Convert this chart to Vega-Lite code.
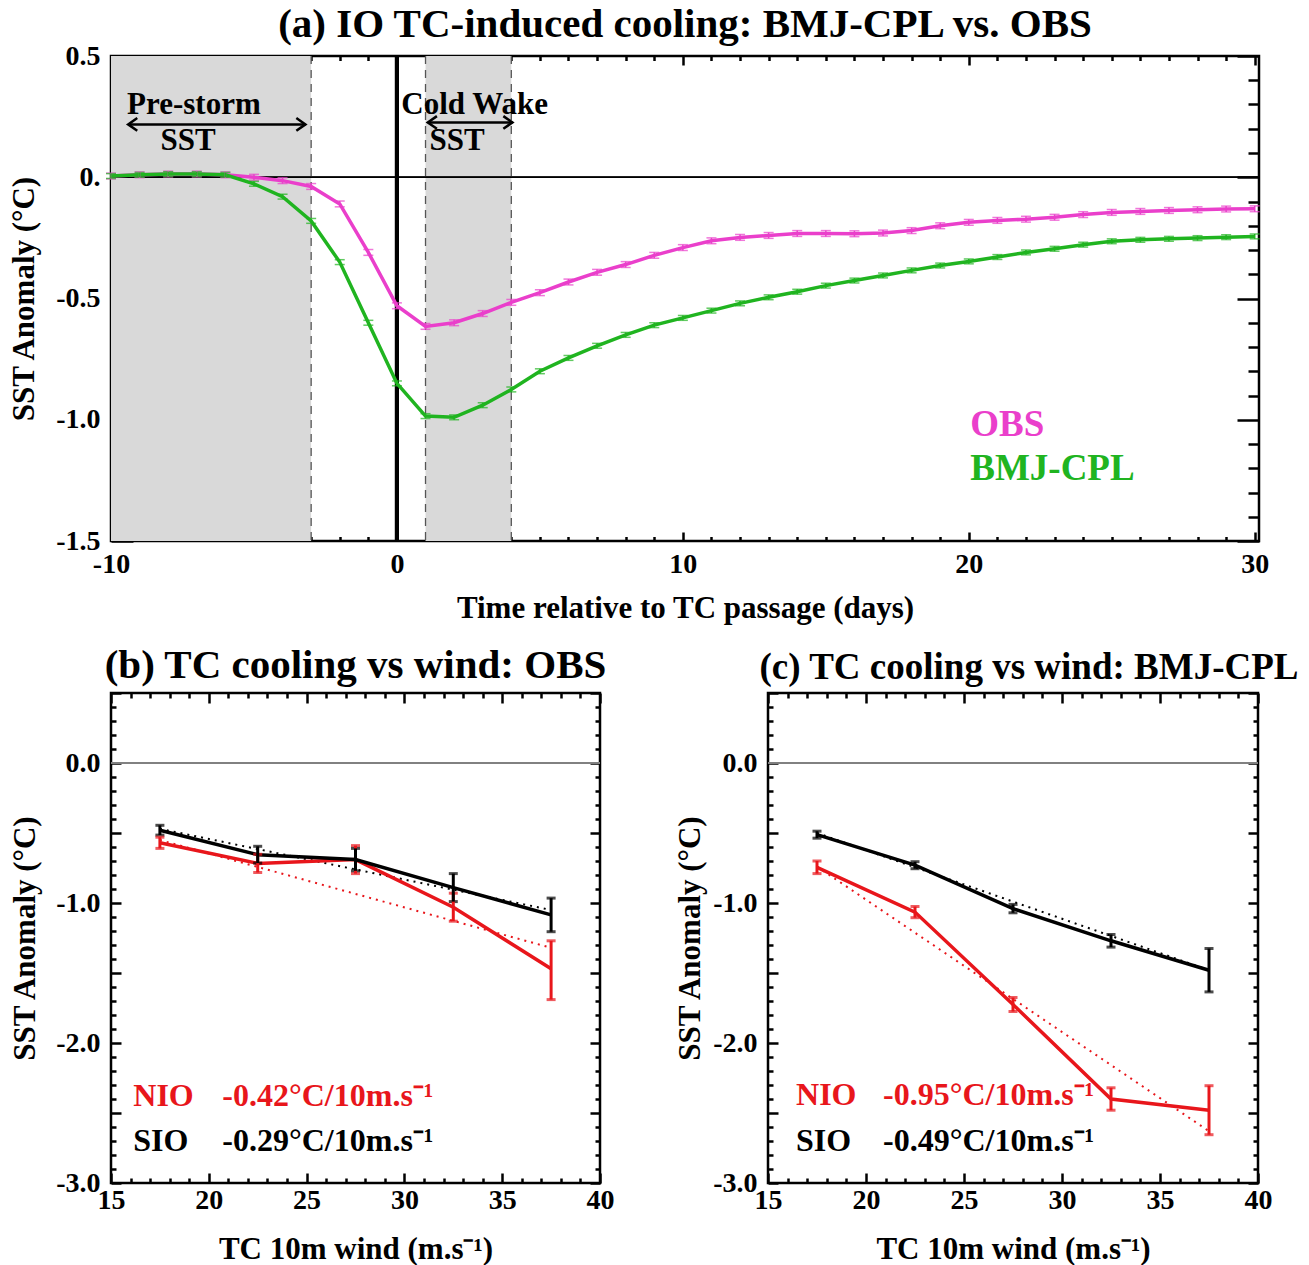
{
  "$schema": "https://vega.github.io/schema/vega-lite/v6.json",
  "background": "white",
  "padding": {"left": 7, "top": 2, "right": 5, "bottom": 3},
  "config": {
    "font": "Liberation Serif",
    "view": {"stroke": "black", "strokeWidth": 2.5},
    "axis": {"domain": false, "grid": false, "labelFont": "Liberation Serif", "titleFont": "Liberation Serif", "labelFontWeight": "bold", "titleFontWeight": "bold", "labelColor": "black", "titleColor": "black", "tickColor": "black", "tickWidth": 2.5, "labelFontSize": 28, "titleFontSize": 31, "labelFlush": false, "labelOverlap": false},
    "title": {"font": "Liberation Serif", "fontWeight": "bold", "fontSize": 41, "color": "black"},
    "text": {"font": "Liberation Serif", "fontWeight": "bold"}
  },
  "datasets": {
    "a": [
      {"day": -10, "series": "OBS", "v": 0.005, "lo": -0.007, "hi": 0.017},
      {"day": -9, "series": "OBS", "v": 0.010, "lo": -0.002, "hi": 0.022},
      {"day": -8, "series": "OBS", "v": 0.013, "lo": 0.001, "hi": 0.025},
      {"day": -7, "series": "OBS", "v": 0.013, "lo": 0.001, "hi": 0.025},
      {"day": -6, "series": "OBS", "v": 0.010, "lo": -0.002, "hi": 0.022},
      {"day": -5, "series": "OBS", "v": 0.000, "lo": -0.012, "hi": 0.012},
      {"day": -4, "series": "OBS", "v": -0.014, "lo": -0.026, "hi": -0.002},
      {"day": -3, "series": "OBS", "v": -0.038, "lo": -0.050, "hi": -0.026},
      {"day": -2, "series": "OBS", "v": -0.110, "lo": -0.122, "hi": -0.098},
      {"day": -1, "series": "OBS", "v": -0.310, "lo": -0.322, "hi": -0.298},
      {"day": 0, "series": "OBS", "v": -0.530, "lo": -0.542, "hi": -0.518},
      {"day": 1, "series": "OBS", "v": -0.615, "lo": -0.627, "hi": -0.603},
      {"day": 2, "series": "OBS", "v": -0.600, "lo": -0.612, "hi": -0.588},
      {"day": 3, "series": "OBS", "v": -0.562, "lo": -0.574, "hi": -0.550},
      {"day": 4, "series": "OBS", "v": -0.516, "lo": -0.528, "hi": -0.504},
      {"day": 5, "series": "OBS", "v": -0.476, "lo": -0.488, "hi": -0.464},
      {"day": 6, "series": "OBS", "v": -0.432, "lo": -0.444, "hi": -0.420},
      {"day": 7, "series": "OBS", "v": -0.392, "lo": -0.404, "hi": -0.380},
      {"day": 8, "series": "OBS", "v": -0.360, "lo": -0.372, "hi": -0.348},
      {"day": 9, "series": "OBS", "v": -0.322, "lo": -0.334, "hi": -0.310},
      {"day": 10, "series": "OBS", "v": -0.290, "lo": -0.302, "hi": -0.278},
      {"day": 11, "series": "OBS", "v": -0.262, "lo": -0.274, "hi": -0.250},
      {"day": 12, "series": "OBS", "v": -0.248, "lo": -0.260, "hi": -0.236},
      {"day": 13, "series": "OBS", "v": -0.240, "lo": -0.252, "hi": -0.228},
      {"day": 14, "series": "OBS", "v": -0.232, "lo": -0.244, "hi": -0.220},
      {"day": 15, "series": "OBS", "v": -0.232, "lo": -0.244, "hi": -0.220},
      {"day": 16, "series": "OBS", "v": -0.233, "lo": -0.245, "hi": -0.221},
      {"day": 17, "series": "OBS", "v": -0.230, "lo": -0.242, "hi": -0.218},
      {"day": 18, "series": "OBS", "v": -0.220, "lo": -0.232, "hi": -0.208},
      {"day": 19, "series": "OBS", "v": -0.200, "lo": -0.212, "hi": -0.188},
      {"day": 20, "series": "OBS", "v": -0.186, "lo": -0.198, "hi": -0.174},
      {"day": 21, "series": "OBS", "v": -0.178, "lo": -0.190, "hi": -0.166},
      {"day": 22, "series": "OBS", "v": -0.173, "lo": -0.185, "hi": -0.161},
      {"day": 23, "series": "OBS", "v": -0.165, "lo": -0.177, "hi": -0.153},
      {"day": 24, "series": "OBS", "v": -0.154, "lo": -0.166, "hi": -0.142},
      {"day": 25, "series": "OBS", "v": -0.145, "lo": -0.157, "hi": -0.133},
      {"day": 26, "series": "OBS", "v": -0.141, "lo": -0.153, "hi": -0.129},
      {"day": 27, "series": "OBS", "v": -0.137, "lo": -0.149, "hi": -0.125},
      {"day": 28, "series": "OBS", "v": -0.134, "lo": -0.146, "hi": -0.122},
      {"day": 29, "series": "OBS", "v": -0.131, "lo": -0.143, "hi": -0.119},
      {"day": 30, "series": "OBS", "v": -0.130, "lo": -0.142, "hi": -0.118},
      {"day": -10, "series": "BMJ-CPL", "v": 0.005, "lo": -0.005, "hi": 0.015},
      {"day": -9, "series": "BMJ-CPL", "v": 0.010, "lo": 0.000, "hi": 0.020},
      {"day": -8, "series": "BMJ-CPL", "v": 0.013, "lo": 0.003, "hi": 0.023},
      {"day": -7, "series": "BMJ-CPL", "v": 0.013, "lo": 0.003, "hi": 0.023},
      {"day": -6, "series": "BMJ-CPL", "v": 0.010, "lo": 0.000, "hi": 0.020},
      {"day": -5, "series": "BMJ-CPL", "v": -0.027, "lo": -0.037, "hi": -0.017},
      {"day": -4, "series": "BMJ-CPL", "v": -0.080, "lo": -0.090, "hi": -0.070},
      {"day": -3, "series": "BMJ-CPL", "v": -0.180, "lo": -0.190, "hi": -0.170},
      {"day": -2, "series": "BMJ-CPL", "v": -0.350, "lo": -0.360, "hi": -0.340},
      {"day": -1, "series": "BMJ-CPL", "v": -0.600, "lo": -0.610, "hi": -0.590},
      {"day": 0, "series": "BMJ-CPL", "v": -0.850, "lo": -0.860, "hi": -0.840},
      {"day": 1, "series": "BMJ-CPL", "v": -0.985, "lo": -0.995, "hi": -0.975},
      {"day": 2, "series": "BMJ-CPL", "v": -0.990, "lo": -1.000, "hi": -0.980},
      {"day": 3, "series": "BMJ-CPL", "v": -0.940, "lo": -0.950, "hi": -0.930},
      {"day": 4, "series": "BMJ-CPL", "v": -0.875, "lo": -0.885, "hi": -0.865},
      {"day": 5, "series": "BMJ-CPL", "v": -0.800, "lo": -0.810, "hi": -0.790},
      {"day": 6, "series": "BMJ-CPL", "v": -0.745, "lo": -0.755, "hi": -0.735},
      {"day": 7, "series": "BMJ-CPL", "v": -0.695, "lo": -0.705, "hi": -0.685},
      {"day": 8, "series": "BMJ-CPL", "v": -0.650, "lo": -0.660, "hi": -0.640},
      {"day": 9, "series": "BMJ-CPL", "v": -0.610, "lo": -0.620, "hi": -0.600},
      {"day": 10, "series": "BMJ-CPL", "v": -0.580, "lo": -0.590, "hi": -0.570},
      {"day": 11, "series": "BMJ-CPL", "v": -0.550, "lo": -0.560, "hi": -0.540},
      {"day": 12, "series": "BMJ-CPL", "v": -0.520, "lo": -0.530, "hi": -0.510},
      {"day": 13, "series": "BMJ-CPL", "v": -0.495, "lo": -0.505, "hi": -0.485},
      {"day": 14, "series": "BMJ-CPL", "v": -0.472, "lo": -0.482, "hi": -0.462},
      {"day": 15, "series": "BMJ-CPL", "v": -0.447, "lo": -0.457, "hi": -0.437},
      {"day": 16, "series": "BMJ-CPL", "v": -0.426, "lo": -0.436, "hi": -0.416},
      {"day": 17, "series": "BMJ-CPL", "v": -0.405, "lo": -0.415, "hi": -0.395},
      {"day": 18, "series": "BMJ-CPL", "v": -0.384, "lo": -0.394, "hi": -0.374},
      {"day": 19, "series": "BMJ-CPL", "v": -0.364, "lo": -0.374, "hi": -0.354},
      {"day": 20, "series": "BMJ-CPL", "v": -0.347, "lo": -0.357, "hi": -0.337},
      {"day": 21, "series": "BMJ-CPL", "v": -0.329, "lo": -0.339, "hi": -0.319},
      {"day": 22, "series": "BMJ-CPL", "v": -0.310, "lo": -0.320, "hi": -0.300},
      {"day": 23, "series": "BMJ-CPL", "v": -0.295, "lo": -0.305, "hi": -0.285},
      {"day": 24, "series": "BMJ-CPL", "v": -0.278, "lo": -0.288, "hi": -0.268},
      {"day": 25, "series": "BMJ-CPL", "v": -0.264, "lo": -0.274, "hi": -0.254},
      {"day": 26, "series": "BMJ-CPL", "v": -0.258, "lo": -0.268, "hi": -0.248},
      {"day": 27, "series": "BMJ-CPL", "v": -0.254, "lo": -0.264, "hi": -0.244},
      {"day": 28, "series": "BMJ-CPL", "v": -0.251, "lo": -0.261, "hi": -0.241},
      {"day": 29, "series": "BMJ-CPL", "v": -0.247, "lo": -0.257, "hi": -0.237},
      {"day": 30, "series": "BMJ-CPL", "v": -0.244, "lo": -0.254, "hi": -0.234}
    ],
    "shade": [{"start": -10, "end": -3}, {"start": 1, "end": 4}],
    "bounds": [{"x": -3}, {"x": 1}, {"x": 4}],
    "annot": [
      {"x": -7.1, "y": 0.30, "t": "Pre-storm"},
      {"x": -7.3, "y": 0.15, "t": "SST"},
      {"x": 2.72, "y": 0.30, "t": "Cold Wake"},
      {"x": 2.1, "y": 0.15, "t": "SST"}
    ],
    "arrows": [{"x1": -9.4, "x2": -3.2, "y": 0.218}, {"x1": 1.08, "x2": 4.04, "y": 0.226}],
    "heads": [
      {"x": -9.4, "y": 0.218, "dir": "left"},
      {"x": -3.2, "y": 0.218, "dir": "right"},
      {"x": 1.08, "y": 0.226, "dir": "left"},
      {"x": 4.04, "y": 0.226, "dir": "right"}
    ],
    "legA": [
      {"x": 20.05, "y": -1.02, "series": "OBS"},
      {"x": 20.05, "y": -1.205, "series": "BMJ-CPL"}
    ],
    "b": [
      {"wind": 17.5, "region": "NIO", "v": -0.57, "lo": -0.61, "hi": -0.53},
      {"wind": 22.5, "region": "NIO", "v": -0.717, "lo": -0.782, "hi": -0.652},
      {"wind": 27.5, "region": "NIO", "v": -0.69, "lo": -0.79, "hi": -0.59},
      {"wind": 32.5, "region": "NIO", "v": -1.03, "lo": -1.13, "hi": -0.93},
      {"wind": 37.5, "region": "NIO", "v": -1.47, "lo": -1.69, "hi": -1.27},
      {"wind": 17.5, "region": "SIO", "v": -0.48, "lo": -0.515, "hi": -0.445},
      {"wind": 22.5, "region": "SIO", "v": -0.655, "lo": -0.715, "hi": -0.595},
      {"wind": 27.5, "region": "SIO", "v": -0.69, "lo": -0.77, "hi": -0.61},
      {"wind": 32.5, "region": "SIO", "v": -0.89, "lo": -0.99, "hi": -0.79},
      {"wind": 37.5, "region": "SIO", "v": -1.085, "lo": -1.205, "hi": -0.965}
    ],
    "bfit": [
      {"wind": 17.5, "region": "NIO", "v": -0.55},
      {"wind": 37.5, "region": "NIO", "v": -1.32},
      {"wind": 17.5, "region": "SIO", "v": -0.47},
      {"wind": 37.5, "region": "SIO", "v": -1.05}
    ],
    "btxt": [
      {"x": 16.14, "y": -2.38, "region": "NIO", "t": "NIO"},
      {"x": 20.69, "y": -2.38, "region": "NIO", "t": "-0.42°C/10m.s⁻¹"},
      {"x": 16.14, "y": -2.70, "region": "SIO", "t": "SIO"},
      {"x": 20.69, "y": -2.70, "region": "SIO", "t": "-0.29°C/10m.s⁻¹"}
    ],
    "c": [
      {"wind": 17.5, "region": "NIO", "v": -0.745, "lo": -0.79, "hi": -0.70},
      {"wind": 22.5, "region": "NIO", "v": -1.065, "lo": -1.105, "hi": -1.025},
      {"wind": 27.5, "region": "NIO", "v": -1.725, "lo": -1.775, "hi": -1.675},
      {"wind": 32.5, "region": "NIO", "v": -2.40, "lo": -2.48, "hi": -2.32},
      {"wind": 37.5, "region": "NIO", "v": -2.48, "lo": -2.655, "hi": -2.305},
      {"wind": 17.5, "region": "SIO", "v": -0.512, "lo": -0.537, "hi": -0.487},
      {"wind": 22.5, "region": "SIO", "v": -0.73, "lo": -0.755, "hi": -0.705},
      {"wind": 27.5, "region": "SIO", "v": -1.04, "lo": -1.07, "hi": -1.01},
      {"wind": 32.5, "region": "SIO", "v": -1.27, "lo": -1.315, "hi": -1.225},
      {"wind": 37.5, "region": "SIO", "v": -1.48, "lo": -1.635, "hi": -1.325}
    ],
    "cfit": [
      {"wind": 17.5, "region": "NIO", "v": -0.74},
      {"wind": 37.5, "region": "NIO", "v": -2.63},
      {"wind": 17.5, "region": "SIO", "v": -0.50},
      {"wind": 37.5, "region": "SIO", "v": -1.48}
    ],
    "ctxt": [
      {"x": 16.43, "y": -2.37, "region": "NIO", "t": "NIO"},
      {"x": 20.87, "y": -2.37, "region": "NIO", "t": "-0.95°C/10m.s⁻¹"},
      {"x": 16.43, "y": -2.70, "region": "SIO", "t": "SIO"},
      {"x": 20.87, "y": -2.70, "region": "SIO", "t": "-0.49°C/10m.s⁻¹"}
    ]
  },
  "spacing": 18,
  "resolve": {"scale": {"color": "independent"}},
  "vconcat": [
    {
      "width": 1148,
      "height": 485,
      "title": {"text": "(a) IO TC-induced cooling: BMJ-CPL vs. OBS", "offset": -4},
      "resolve": {"axis": {"x": "independent", "y": "independent"}},
      "layer": [
        {
          "data": {"name": "shade"},
          "mark": {"type": "rect", "color": "#d9d9d9"},
          "encoding": {
            "x": {"field": "start", "type": "quantitative", "scale": {"domain": [-10, 30.15], "nice": false, "zero": false}, "axis": null},
            "x2": {"field": "end"},
            "y": {"datum": 0.5, "type": "quantitative", "scale": {"domain": [-1.5, 0.5], "nice": false, "zero": false}, "axis": null},
            "y2": {"datum": -1.5}
          }
        },
        {
          "data": {"name": "bounds"},
          "mark": {"type": "rule", "color": "#555555", "strokeWidth": 1.3, "strokeDash": [8, 6]},
          "encoding": {"x": {"field": "x", "type": "quantitative", "axis": null}}
        },
        {
          "data": {"name": "bounds"},
          "mark": {"type": "rule", "color": "black", "strokeWidth": 1.3},
          "encoding": {"y": {"datum": 0, "type": "quantitative", "axis": null}}
        },
        {
          "data": {"name": "bounds"},
          "mark": {"type": "rule", "color": "black", "strokeWidth": 4},
          "encoding": {"x": {"datum": 0, "type": "quantitative", "axis": null}}
        },
        {
          "data": {"name": "a"},
          "mark": {"type": "line", "strokeWidth": 3.5},
          "encoding": {
            "x": {"field": "day", "type": "quantitative", "axis": {
              "orient": "bottom", "title": "Time relative to TC passage (days)",
              "values": [-10,-9,-8,-7,-6,-5,-4,-3,-2,-1,0,1,2,3,4,5,6,7,8,9,10,11,12,13,14,15,16,17,18,19,20,21,22,23,24,25,26,27,28,29,30],
              "labelExpr": "datum.value % 10 === 0 ? '' + datum.value : ''",
              "tickSize": {"condition": {"test": "datum.value % 10 === 0", "value": -9}, "value": -4.5},
              "labelPadding": 18.5, "titlePadding": 10}},
            "y": {"field": "v", "type": "quantitative", "axis": {
              "orient": "left", "title": "SST Anomaly (°C)",
              "values": [-1.5,-1.4,-1.3,-1.2,-1.1,-1.0,-0.9,-0.8,-0.7,-0.6,-0.5,-0.4,-0.3,-0.2,-0.1,0,0.1,0.2,0.3,0.4,0.5],
              "labelExpr": "abs(datum.value*2-round(datum.value*2))<0.001 ? (abs(datum.value)<0.001 ? '0.' : replace(format(datum.value,'.1f'),'−','-')) : ''",
              "tickSize": {"condition": {"test": "abs(datum.value*2-round(datum.value*2))<0.001", "value": -22}, "value": -11},
              "labelPadding": 33, "titlePadding": 15}},
            "color": {"field": "series", "type": "nominal", "scale": {"domain": ["OBS", "BMJ-CPL"], "range": ["#ea3fcb", "#20b420"]}, "legend": null},
            "detail": {"field": "series"}
          }
        },
        {
          "data": {"name": "a"},
          "mark": {"type": "errorbar", "ticks": true, "size": 10, "thickness": 1.5},
          "encoding": {
            "x": {"field": "day", "type": "quantitative", "axis": null},
            "y": {"field": "lo", "type": "quantitative", "axis": null},
            "y2": {"field": "hi"},
            "color": {"field": "series", "type": "nominal", "legend": null}
          }
        },
        {
          "data": {"name": "annot"},
          "mark": {"type": "text", "fontSize": 31, "color": "black", "align": "center", "baseline": "middle"},
          "encoding": {
            "x": {"field": "x", "type": "quantitative", "axis": {
              "orient": "top", "labels": false, "title": null,
              "values": [-10,-9,-8,-7,-6,-5,-4,-3,-2,-1,0,1,2,3,4,5,6,7,8,9,10,11,12,13,14,15,16,17,18,19,20,21,22,23,24,25,26,27,28,29,30],
              "tickSize": {"condition": {"test": "datum.value % 10 === 0", "value": -9}, "value": -4.5}}},
            "y": {"field": "y", "type": "quantitative", "axis": {
              "orient": "right", "labels": false, "title": null,
              "values": [-1.5,-1.4,-1.3,-1.2,-1.1,-1.0,-0.9,-0.8,-0.7,-0.6,-0.5,-0.4,-0.3,-0.2,-0.1,0,0.1,0.2,0.3,0.4,0.5],
              "tickSize": {"condition": {"test": "abs(datum.value*2-round(datum.value*2))<0.001", "value": -22}, "value": -11}}},
            "text": {"field": "t"}
          }
        },
        {
          "data": {"name": "arrows"},
          "mark": {"type": "rule", "color": "black", "strokeWidth": 2.5},
          "encoding": {
            "x": {"field": "x1", "type": "quantitative", "axis": null},
            "x2": {"field": "x2"},
            "y": {"field": "y", "type": "quantitative", "axis": null}
          }
        },
        {
          "data": {"name": "heads"},
          "mark": {"type": "point", "filled": false, "stroke": "black", "strokeWidth": 2.5, "size": 196, "opacity": 1},
          "encoding": {
            "x": {"field": "x", "type": "quantitative", "axis": null},
            "y": {"field": "y", "type": "quantitative", "axis": null},
            "shape": {"field": "dir", "type": "nominal", "scale": {"domain": ["left", "right"], "range": ["M1.3,-0.9L0,0L1.3,0.9", "M-1.3,-0.9L0,0L-1.3,0.9"]}, "legend": null}
          }
        },
        {
          "data": {"name": "legA"},
          "mark": {"type": "text", "fontSize": 37, "align": "left", "baseline": "middle"},
          "encoding": {
            "x": {"field": "x", "type": "quantitative", "axis": null},
            "y": {"field": "y", "type": "quantitative", "axis": null},
            "text": {"field": "series"},
            "color": {"field": "series", "type": "nominal", "legend": null}
          }
        }
      ]
    },
    {
      "spacing": 57,
      "resolve": {"scale": {"color": "independent"}},
      "hconcat": [
        {
          "width": 489,
          "height": 490,
          "title": {"text": "(b) TC cooling vs wind: OBS", "offset": -8},
          "resolve": {"axis": {"x": "independent", "y": "independent"}},
          "layer": [
            {
              "data": {"name": "bfit"},
              "mark": {"type": "rule", "color": "#808080", "strokeWidth": 1.5},
              "encoding": {"y": {"datum": 0, "type": "quantitative", "scale": {"domain": [-3, 0.5], "nice": false, "zero": false}, "axis": null}}
            },
            {
              "data": {"name": "bfit"},
              "mark": {"type": "line", "strokeWidth": 2, "strokeDash": [2, 5]},
              "encoding": {
                "x": {"field": "wind", "type": "quantitative", "scale": {"domain": [15, 40], "nice": false, "zero": false}, "axis": null},
                "y": {"field": "v", "type": "quantitative", "axis": null},
                "color": {"field": "region", "type": "nominal", "scale": {"domain": ["NIO", "SIO"], "range": ["#e8161b", "black"]}, "legend": null}
              }
            },
            {
              "data": {"name": "b"},
              "mark": {"type": "line", "strokeWidth": 3.5},
              "encoding": {
                "x": {"field": "wind", "type": "quantitative", "axis": {
                  "orient": "bottom", "title": "TC 10m wind (m.s⁻¹)",
                  "values": [15,16,17,18,19,20,21,22,23,24,25,26,27,28,29,30,31,32,33,34,35,36,37,38,39,40],
                  "labelExpr": "datum.value % 5 === 0 ? '' + datum.value : ''",
                  "tickSize": {"condition": {"test": "datum.value % 5 === 0", "value": -10}, "value": -5},
                  "labelPadding": 13, "titlePadding": 15}},
                "y": {"field": "v", "type": "quantitative", "axis": {
                  "orient": "left", "title": "SST Anomaly (°C)",
                  "values": [-3.0,-2.9,-2.8,-2.7,-2.6,-2.5,-2.4,-2.3,-2.2,-2.1,-2.0,-1.9,-1.8,-1.7,-1.6,-1.5,-1.4,-1.3,-1.2,-1.1,-1.0,-0.9,-0.8,-0.7,-0.6,-0.5,-0.4,-0.3,-0.2,-0.1,0,0.1,0.2,0.3,0.4,0.5],
                  "labelExpr": "abs(datum.value-round(datum.value))<0.001 ? replace(format(datum.value,'.1f'),'−','-') : ''",
                  "tickSize": {"condition": {"test": "abs(datum.value*2-round(datum.value*2))<0.001", "value": -10}, "value": -5},
                  "labelPadding": 21, "titlePadding": 14}},
                "color": {"field": "region", "type": "nominal", "legend": null}
              }
            },
            {
              "data": {"name": "b"},
              "mark": {"type": "errorbar", "ticks": true, "size": 9, "thickness": 3},
              "encoding": {
                "x": {"field": "wind", "type": "quantitative", "axis": null},
                "y": {"field": "lo", "type": "quantitative", "axis": null},
                "y2": {"field": "hi"},
                "color": {"field": "region", "type": "nominal", "legend": null}
              }
            },
            {
              "data": {"name": "btxt"},
              "mark": {"type": "text", "fontSize": 32, "align": "left", "baseline": "middle"},
              "encoding": {
                "x": {"field": "x", "type": "quantitative", "axis": {
                  "orient": "top", "labels": false, "title": null,
                  "values": [15,16,17,18,19,20,21,22,23,24,25,26,27,28,29,30,31,32,33,34,35,36,37,38,39,40],
                  "tickSize": {"condition": {"test": "datum.value % 5 === 0", "value": -10}, "value": -5}}},
                "y": {"field": "y", "type": "quantitative", "axis": {
                  "orient": "right", "labels": false, "title": null,
                  "values": [-3.0,-2.9,-2.8,-2.7,-2.6,-2.5,-2.4,-2.3,-2.2,-2.1,-2.0,-1.9,-1.8,-1.7,-1.6,-1.5,-1.4,-1.3,-1.2,-1.1,-1.0,-0.9,-0.8,-0.7,-0.6,-0.5,-0.4,-0.3,-0.2,-0.1,0,0.1,0.2,0.3,0.4,0.5],
                  "tickSize": {"condition": {"test": "abs(datum.value*2-round(datum.value*2))<0.001", "value": -10}, "value": -5}}},
                "text": {"field": "t"},
                "color": {"field": "region", "type": "nominal", "legend": null}
              }
            }
          ]
        },
        {
          "width": 490,
          "height": 490,
          "title": {"text": "(c) TC cooling vs wind: BMJ-CPL", "offset": -8, "fontSize": 37, "dx": 16},
          "resolve": {"axis": {"x": "independent", "y": "independent"}},
          "layer": [
            {
              "data": {"name": "cfit"},
              "mark": {"type": "rule", "color": "#808080", "strokeWidth": 1.5},
              "encoding": {"y": {"datum": 0, "type": "quantitative", "scale": {"domain": [-3, 0.5], "nice": false, "zero": false}, "axis": null}}
            },
            {
              "data": {"name": "cfit"},
              "mark": {"type": "line", "strokeWidth": 2, "strokeDash": [2, 5]},
              "encoding": {
                "x": {"field": "wind", "type": "quantitative", "scale": {"domain": [15, 40], "nice": false, "zero": false}, "axis": null},
                "y": {"field": "v", "type": "quantitative", "axis": null},
                "color": {"field": "region", "type": "nominal", "scale": {"domain": ["NIO", "SIO"], "range": ["#e8161b", "black"]}, "legend": null}
              }
            },
            {
              "data": {"name": "c"},
              "mark": {"type": "line", "strokeWidth": 3.5},
              "encoding": {
                "x": {"field": "wind", "type": "quantitative", "axis": {
                  "orient": "bottom", "title": "TC 10m wind (m.s⁻¹)",
                  "values": [15,16,17,18,19,20,21,22,23,24,25,26,27,28,29,30,31,32,33,34,35,36,37,38,39,40],
                  "labelExpr": "datum.value % 5 === 0 ? '' + datum.value : ''",
                  "tickSize": {"condition": {"test": "datum.value % 5 === 0", "value": -10}, "value": -5},
                  "labelPadding": 13, "titlePadding": 15}},
                "y": {"field": "v", "type": "quantitative", "axis": {
                  "orient": "left", "title": "SST Anomaly (°C)",
                  "values": [-3.0,-2.9,-2.8,-2.7,-2.6,-2.5,-2.4,-2.3,-2.2,-2.1,-2.0,-1.9,-1.8,-1.7,-1.6,-1.5,-1.4,-1.3,-1.2,-1.1,-1.0,-0.9,-0.8,-0.7,-0.6,-0.5,-0.4,-0.3,-0.2,-0.1,0,0.1,0.2,0.3,0.4,0.5],
                  "labelExpr": "abs(datum.value-round(datum.value))<0.001 ? replace(format(datum.value,'.1f'),'−','-') : ''",
                  "tickSize": {"condition": {"test": "abs(datum.value*2-round(datum.value*2))<0.001", "value": -10}, "value": -5},
                  "labelPadding": 21, "titlePadding": 6}},
                "color": {"field": "region", "type": "nominal", "legend": null}
              }
            },
            {
              "data": {"name": "c"},
              "mark": {"type": "errorbar", "ticks": true, "size": 9, "thickness": 3},
              "encoding": {
                "x": {"field": "wind", "type": "quantitative", "axis": null},
                "y": {"field": "lo", "type": "quantitative", "axis": null},
                "y2": {"field": "hi"},
                "color": {"field": "region", "type": "nominal", "legend": null}
              }
            },
            {
              "data": {"name": "ctxt"},
              "mark": {"type": "text", "fontSize": 32, "align": "left", "baseline": "middle"},
              "encoding": {
                "x": {"field": "x", "type": "quantitative", "axis": {
                  "orient": "top", "labels": false, "title": null,
                  "values": [15,16,17,18,19,20,21,22,23,24,25,26,27,28,29,30,31,32,33,34,35,36,37,38,39,40],
                  "tickSize": {"condition": {"test": "datum.value % 5 === 0", "value": -10}, "value": -5}}},
                "y": {"field": "y", "type": "quantitative", "axis": {
                  "orient": "right", "labels": false, "title": null,
                  "values": [-3.0,-2.9,-2.8,-2.7,-2.6,-2.5,-2.4,-2.3,-2.2,-2.1,-2.0,-1.9,-1.8,-1.7,-1.6,-1.5,-1.4,-1.3,-1.2,-1.1,-1.0,-0.9,-0.8,-0.7,-0.6,-0.5,-0.4,-0.3,-0.2,-0.1,0,0.1,0.2,0.3,0.4,0.5],
                  "tickSize": {"condition": {"test": "abs(datum.value*2-round(datum.value*2))<0.001", "value": -10}, "value": -5}}},
                "text": {"field": "t"},
                "color": {"field": "region", "type": "nominal", "legend": null}
              }
            }
          ]
        }
      ]
    }
  ]
}
